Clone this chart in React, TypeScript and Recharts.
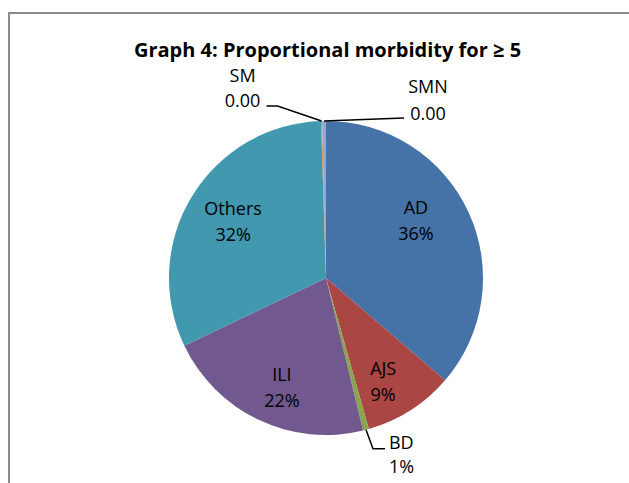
import React from 'react';
import { PieChart, Pie, Cell } from 'recharts';

const categories = ['AD', 'AJS', 'BD', 'ILI', 'Others', 'SM', 'SMN'];
const shares = [36.3, 9.3, 0.6, 21.7, 31.6, 0.1, 0.4];
const valueLabels = ['36%', '9%', '1%', '22%', '32%', '0.00', '0.00'];
const colors = ['#4572A7', '#AA4643', '#89A54E', '#71588F', '#4198AF', '#DB843D', '#93A9CF'];
const title = 'Graph 4: Proportional morbidity for \u2265 5';

const data = categories.map((name, i) => ({ name, value: shares[i] }));

const FONT = '"Open Sans", "Noto Sans", sans-serif';
const RAD = Math.PI / 180;

// small nudges for inside labels (Excel best-fit placement)
const insideNudge: Record<string, number[]> = {
  AD: [-10, -12],
  AJS: [-2, 10],
  ILI: [3, 10],
  Others: [1, 0],
};

// leader-line layouts for small slices (offsets relative to slice edge point)
const outsideLayout: Record<string, any> = {
  BD: { pts: [[0, 0], [7, 19], [19, 19]], tx: 23, anchor: 'start', ny: 12, vy: 36 },
  SM: { pts: [[0, 0], [-44, -15], [-55, -15]], tx: -79, anchor: 'middle', ny: -46, vy: -21 },
  SMN: { pts: [[0, 0], [80, -3]], tx: 104, anchor: 'middle', ny: -35, vy: -8 },
};

const renderLabel = (props: any) => {
  const { cx, cy, midAngle, outerRadius, index } = props;
  const name = categories[index];
  const val = valueLabels[index];
  const cos = Math.cos(-midAngle * RAD);
  const sin = Math.sin(-midAngle * RAD);
  const tp = { fontFamily: FONT, fontSize: 18, fill: '#000' };
  const lay = outsideLayout[name];
  if (!lay) {
    const r = outerRadius * 0.7;
    const n = insideNudge[name] || [0, 0];
    const x = cx + r * cos + n[0];
    const y = cy + r * sin + n[1];
    return (
      <g key={`l${index}`}>
        <text {...tp} x={x} y={y - 13} textAnchor="middle" dominantBaseline="central">{name}</text>
        <text {...tp} x={x} y={y + 13} textAnchor="middle" dominantBaseline="central">{val}</text>
      </g>
    );
  }
  const ex = cx + outerRadius * cos;
  const ey = cy + outerRadius * sin;
  const d = lay.pts.map((p: number[], i: number) => `${i ? 'L' : 'M'}${ex + p[0]},${ey + p[1]}`).join(' ');
  return (
    <g key={`l${index}`}>
      <path d={d} stroke="#000" strokeWidth={1.5} fill="none" />
      <text {...tp} x={ex + lay.tx} y={ey + lay.ny} textAnchor={lay.anchor} dominantBaseline="central">{name}</text>
      <text {...tp} x={ex + lay.tx} y={ey + lay.vy} textAnchor={lay.anchor} dominantBaseline="central">{val}</text>
    </g>
  );
};

export default function App() {
  return (
    <div style={{ position: 'absolute', left: 0, top: 0, width: 629, height: 483, background: '#fff', overflow: 'hidden' }}>
      <div style={{ position: 'absolute', left: 8, top: 12, width: 640, height: 500, borderLeft: '2px solid #8c8c8c', borderTop: '2px solid #8c8c8c' }} />
      <div style={{ position: 'absolute', left: 0, width: 655, top: 36, textAlign: 'center', fontFamily: FONT, fontWeight: 700, fontSize: 20, lineHeight: '28px', color: '#000' }}>
        {title}
      </div>
      <div style={{ position: 'absolute', left: 0, top: 0 }}>
        <PieChart width={629} height={483} margin={{ top: 0, right: 0, bottom: 0, left: 0 }}>
          <Pie
            data={data}
            dataKey="value"
            nameKey="name"
            cx={326}
            cy={278}
            outerRadius={157}
            startAngle={90}
            endAngle={-270}
            stroke="none"
            isAnimationActive={false}
            labelLine={false}
            label={renderLabel}
          >
            {data.map((d, i) => (
              <Cell key={d.name} fill={colors[i]} />
            ))}
          </Pie>
        </PieChart>
      </div>
    </div>
  );
}
